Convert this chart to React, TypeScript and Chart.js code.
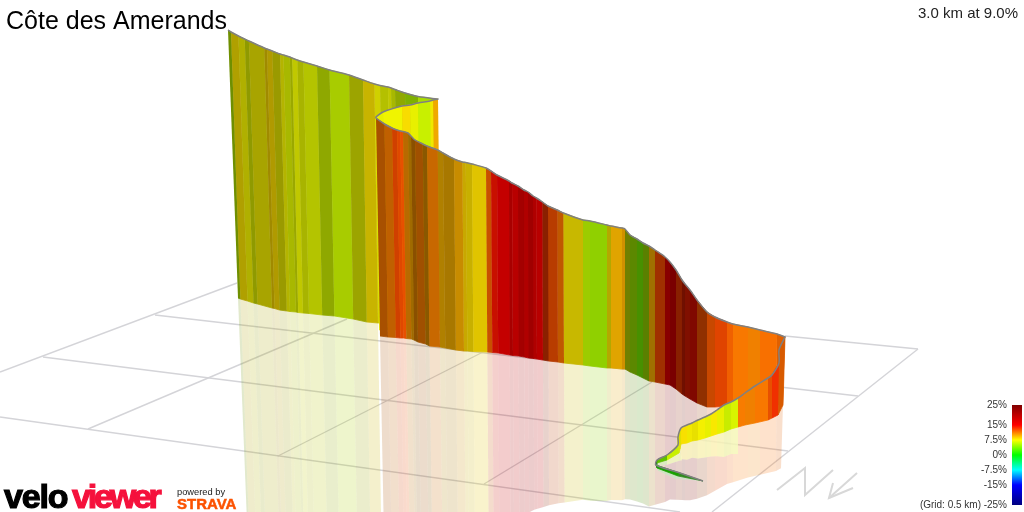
import { useEffect, useRef } from "react";
import { Chart, registerables } from "chart.js";

Chart.register(...registerables);

const FONT = '"Liberation Sans", Helvetica, Arial, sans-serif';

const titleText = "Côte des Amerands";
const summaryText = "3.0 km at 9.0%";
const gridNote = "(Grid: 0.5 km)";

// colour scale of the gradient
const gradeValues = [25, 15, 7.5, 0, -7.5, -15, -25];
const gradeColors = ["#800000", "#ff0000", "#ffff00", "#00ff00", "#00ffff", "#0000ff", "#000080"];
const gradeLabels = ["25%", "15%", "7.5%", "0%", "-7.5%", "-15%", "-25%"];

// far wall, from the top left corner to the hairpin
const farTopX = [228, 231, 238.5, 244.7, 248.9, 264.3, 267, 272.3, 280, 283.5, 289.8, 292.2, 297.3, 303.5, 317, 329.6, 349, 363, 374.5, 380, 388, 391, 395, 405, 418, 437];
const farTopY = [30, 32, 36, 39, 41, 48, 49, 51, 54, 55, 57, 58, 60, 62, 66, 70, 75, 80, 84, 85.5, 87, 88, 89.5, 93, 96.5, 99];
const farBaseX = [238, 240.4, 247.5, 253.5, 257.5, 272, 274.5, 279.5, 286.8, 290, 296, 298.2, 303, 309, 322.2, 334.4, 353.2, 366.8, 378, 383, 391, 394, 398, 408, 421, 439];
const farBaseY = [298, 299, 301, 303, 304, 308, 308.5, 310, 311, 311.5, 312, 312.5, 313, 313.5, 315, 316, 319, 322, 323, 323, 324, 325, 325, 326, 328, 330];
const farColors = ["#6f8f00", "#b0a000", "#b0b000", "#8f9a00", "#a8a400", "#a08a00", "#b09a00", "#9a9a00", "#b4b400", "#a8b800", "#9aa800", "#c0c800", "#a8b400", "#b4c400", "#8fa800", "#a8cc00", "#9ca400", "#c8b400", "#d0d000", "#b4c000", "#c0c800", "#a8b800", "#90a800", "#7fb000", "#a8dc00"];
const farVisibleStations = 19;

// inside of the hairpin
const turnTopX = [438, 433, 430, 418, 410, 402, 383, 376];
const turnTopY = [99, 100, 101, 103, 105, 106, 112, 117];
const turnBaseX = [441, 436, 433, 421, 413, 405, 386, 379.5];
const turnBaseY = [330, 330, 330, 330, 330, 330, 330, 330];
const turnColors = ["#f0a800", "#f0e800", "#c8f000", "#e8f000", "#f8dc00", "#f0f400", "#e8f000"];

// main wall
const mainTopX = [376, 384.5, 392, 397, 400.3, 403, 408, 411, 415, 422.7, 427, 437.7, 443, 454, 462.4, 465.8, 472, 486, 491, 497, 509, 512, 518, 524, 528, 533, 536.4, 542.4, 548, 557.4, 563.4, 583, 590, 607, 611, 622, 625, 630, 637, 643, 649, 655, 665, 670, 676, 682, 685, 690, 697, 707, 715, 727, 733, 748, 760, 777, 785];
const mainTopY = [118, 124, 128, 130, 131, 131.5, 133, 136, 140, 144, 146, 150, 153, 159, 162, 162.5, 164, 168, 171, 175, 181, 183, 186, 190, 192, 196, 198, 202, 206, 210, 213, 220, 221, 225, 226, 228, 229, 235, 239, 243, 246, 250, 257, 262, 270, 280, 284, 290, 300, 312, 317, 322, 324, 327, 330, 334, 337];
const mainBaseX = [380, 388, 395.7, 400.4, 403.7, 406.3, 411.4, 414, 418, 425.6, 429.5, 440, 445.3, 455.9, 464, 467.4, 473.4, 487.3, 492.3, 498.2, 509.8, 513, 518.7, 524.4, 528.6, 533.6, 537, 543, 548.5, 558, 564, 583, 590, 607, 611, 622, 625, 630, 637, 643, 649, 655, 665, 670, 676, 682, 685, 690, 697, 707, 715, 727, 733, 748, 760, 776.5, 783];
const mainBaseY = [336, 337, 337.5, 338, 338, 338.5, 339, 340, 342, 344, 346, 347, 348, 350, 351, 351, 351.5, 352, 352.5, 353, 355, 355.5, 356, 357, 358, 358.5, 359, 360, 361, 362, 363, 365, 366, 368, 368, 369, 369, 372, 375, 378, 381, 382, 384, 385, 389, 394, 396, 399, 403, 407, 407, 406, 406, 405, 405, 405, 405];
const mainColors = ["#a85000", "#c06000", "#d04000", "#e04800", "#e85000", "#b86a00", "#a06a00", "#8a5000", "#a05000", "#8a5800", "#c86800", "#b08000", "#a87800", "#c88c00", "#c8a800", "#c8b000", "#e0c400", "#c85000", "#c81000", "#c40000", "#a80000", "#b80000", "#a40000", "#b00000", "#a00000", "#b00000", "#b80000", "#8a2000", "#b83c00", "#c05800", "#c8b800", "#9ccc00", "#90d000", "#b4a800", "#e0a400", "#d09000", "#708000", "#5c8800", "#489000", "#5a8000", "#a07000", "#a03000", "#880000", "#7a0000", "#882000", "#701000", "#801000", "#800800", "#903000", "#c84800", "#e04400", "#f06000", "#f87800", "#f08000", "#f87000", "#e06000"];

// first part of the climb, running back towards the viewer
const nearTopX = [785, 779, 779, 772, 768, 755, 745, 738, 731, 724, 717, 711, 705, 698, 692, 687, 681, 678, 678, 667, 657, 656, 680, 703];
const nearTopY = [337, 350, 363, 375, 378, 386, 393, 398, 402, 405, 410, 414, 417, 420, 423, 425, 428, 437, 445, 455, 460, 465, 473, 481];
const nearBaseX = [783, 778, 778, 772, 768, 755, 745, 738, 731, 724, 717, 711, 705, 698, 692, 687, 681, 680, 679, 667, 657, 657, 678, 703];
const nearBaseY = [405, 415, 415, 418, 420, 423, 425, 427, 429, 432, 434, 436, 438, 440, 441, 443, 444, 449, 453, 460, 463, 468, 476, 481];
const nearColors = ["#d85a00", "#d85a00", "#f03000", "#e85000", "#f87800", "#f08000", "#f87c00", "#d8f400", "#c8ec00", "#e8f000", "#f8e800", "#e8f000", "#f4f000", "#e8e000", "#f0e800", "#f8e000", "#e0e000", "#d8e800", "#c8f000", "#60c000", "#108000", "#18a000", "#308a20"];
// the orange stations stand in front of the main wall's own reflection
const nearOrangeStations = 7;

// ground grid, each line as x0, y0, x1, y1
const gridLines = [
  [0, 372, 237, 283],
  [785, 336, 918, 349],
  [155, 315, 858, 396],
  [43, 357, 788, 451],
  [0, 417, 680, 512],
  [88, 429, 347, 319],
  [278, 456, 483, 352],
  [484, 484, 652, 382],
  [918, 349, 712, 512],
];

// north and south marks on the ground
const northMarkX = [777, 805, 805, 833];
const northMarkY = [490, 468, 495, 470];
const arrowShaftX = [857, 829];
const arrowShaftY = [473, 498];
const arrowHeadX = [833, 829, 853];
const arrowHeadY = [483, 498, 488];

const REFLECT_STRENGTH = 0.93;
const REFLECT_ALPHA = 0.2;

function pts(xs: number[], ys: number[]) {
  return xs.map((x, i) => ({ x, y: ys[i] }));
}

function alpha(hex: string, a: number) {
  const n = parseInt(hex.slice(1), 16);
  return `rgba(${(n >> 16) & 255},${(n >> 8) & 255},${n & 255},${a})`;
}

function poly(data: { x: number; y: number }[], color: any, seam = 0) {
  return {
    data,
    showLine: true,
    fill: "shape",
    backgroundColor: color,
    borderColor: color,
    borderWidth: seam,
    pointRadius: 0,
    tension: 0,
  };
}

function stroke(data: { x: number; y: number }[], color: string, width: number, tension = 0) {
  return {
    data,
    showLine: true,
    fill: false,
    borderColor: color,
    borderWidth: width,
    pointRadius: 0,
    tension,
  };
}

function wall(topX: number[], topY: number[], baseX: number[], baseY: number[], colors: string[]) {
  return colors.map((c, i) =>
    poly(
      [
        { x: topX[i], y: topY[i] },
        { x: topX[i + 1], y: topY[i + 1] },
        { x: baseX[i + 1], y: baseY[i + 1] },
        { x: baseX[i], y: baseY[i] },
      ],
      c,
      0.8
    )
  );
}

// the wall mirrored in the ground
function reflection(topX: number[], topY: number[], baseX: number[], baseY: number[], colors: string[], cover: boolean) {
  const out: any[] = [];
  colors.forEach((c, i) => {
    const corners = [
      { x: baseX[i], y: baseY[i] },
      { x: baseX[i + 1], y: baseY[i + 1] },
      {
        x: baseX[i + 1] + baseX[i + 1] - topX[i + 1],
        y: baseY[i + 1] + (baseY[i + 1] - topY[i + 1]) * REFLECT_STRENGTH,
      },
      {
        x: baseX[i] + baseX[i] - topX[i],
        y: baseY[i] + (baseY[i] - topY[i]) * REFLECT_STRENGTH,
      },
    ];
    if (cover) out.push(poly(corners, "rgba(255,255,255,0.75)"));
    out.push(poly(corners, alpha(c, REFLECT_ALPHA)));
  });
  return out;
}

const pagePlugin = {
  id: "pageText",
  afterDatasetsDraw(chart: any) {
    const { ctx, scales } = chart;
    const px = (v: number) => scales.x.getPixelForValue(v);
    const py = (v: number) => scales.y.getPixelForValue(v);
    ctx.save();
    ctx.textBaseline = "alphabetic";

    ctx.fillStyle = "#000";
    ctx.textAlign = "left";
    ctx.font = `25px ${FONT}`;
    ctx.fillText(titleText, px(6), py(29));

    ctx.fillStyle = "#222";
    ctx.textAlign = "right";
    ctx.font = `15px ${FONT}`;
    ctx.fillText(summaryText, px(1018), py(18));

    ctx.font = `10px ${FONT}`;
    ctx.textBaseline = "middle";
    ctx.fillStyle = "#333";
    gradeLabels.forEach((label, i) => {
      ctx.fillText(label, px(1007), scales.grade.getPixelForValue(gradeValues[i]));
    });
    ctx.fillText(gridNote, px(981), scales.grade.getPixelForValue(-25));

    // logo
    ctx.textBaseline = "alphabetic";
    ctx.textAlign = "left";
    ctx.font = `bold 34px ${FONT}`;
    ctx.lineWidth = 1.2;
    ctx.letterSpacing = "-1.2px";
    ctx.fillStyle = ctx.strokeStyle = "#000";
    ctx.fillText("velo", px(4), py(508));
    ctx.strokeText("velo", px(4), py(508));
    ctx.letterSpacing = "-3.2px";
    ctx.fillStyle = ctx.strokeStyle = "#f5113c";
    ctx.fillText("viewer", px(72), py(508));
    ctx.strokeText("viewer", px(72), py(508));
    ctx.letterSpacing = "0px";

    ctx.fillStyle = "#222";
    ctx.font = `9.3px ${FONT}`;
    ctx.fillText("powered by", px(177), py(495));
    ctx.fillStyle = ctx.strokeStyle = "#fc5200";
    ctx.font = `bold 15px ${FONT}`;
    ctx.lineWidth = 0.5;
    ctx.fillText("STRAVA", px(177), py(509));
    ctx.strokeText("STRAVA", px(177), py(509));
    ctx.restore();
  },
};

export default function App() {
  const canvasRef = useRef<HTMLCanvasElement>(null);

  useEffect(() => {
    if (!canvasRef.current) return;

    const grid = gridLines.map((l) =>
      stroke([{ x: l[0], y: l[1] }, { x: l[2], y: l[3] }], "#d4d4d8", 1.4)
    );
    const marks = [
      stroke(pts(northMarkX, northMarkY), "#d8d8d8", 2),
      stroke(pts(arrowShaftX, arrowShaftY), "#d8d8d8", 2),
      stroke(pts(arrowHeadX, arrowHeadY), "#d8d8d8", 2),
    ];

    const route = [
      ...pts(farTopX, farTopY),
      ...pts(turnTopX, turnTopY),
      ...pts(mainTopX, mainTopY),
      ...pts(nearTopX, nearTopY),
    ];

    const legendBar = {
      ...poly(
        [
          { x: 1012, y: 25 },
          { x: 1022, y: 25 },
          { x: 1022, y: -25 },
          { x: 1012, y: -25 },
        ],
        (c: any) => {
          const { ctx, scales } = c.chart;
          const y0 = scales.grade ? scales.grade.getPixelForValue(25) : NaN;
          const y1 = scales.grade ? scales.grade.getPixelForValue(-25) : NaN;
          // the scale has no pixels until the first layout is done
          if (!Number.isFinite(y0) || !Number.isFinite(y1)) return "#800000";
          const g = ctx.createLinearGradient(0, y0, 0, y1);
          gradeValues.forEach((v, i) => g.addColorStop((25 - v) / 50, gradeColors[i]));
          return g;
        }
      ),
      borderWidth: 0,
      yAxisID: "grade",
    };

    // listed back to front, Chart.js paints the first dataset last
    const layers = [
      ...grid,
      ...marks,
      ...reflection(
        farTopX.slice(0, farVisibleStations),
        farTopY.slice(0, farVisibleStations),
        farBaseX.slice(0, farVisibleStations),
        farBaseY.slice(0, farVisibleStations),
        farColors.slice(0, farVisibleStations - 1),
        false
      ),
      ...reflection(mainTopX, mainTopY, mainBaseX, mainBaseY, mainColors, false),
      ...reflection(
        nearTopX.slice(nearOrangeStations),
        nearTopY.slice(nearOrangeStations),
        nearBaseX.slice(nearOrangeStations),
        nearBaseY.slice(nearOrangeStations),
        nearColors.slice(nearOrangeStations),
        true
      ),
      ...wall(farTopX, farTopY, farBaseX, farBaseY, farColors),
      ...wall(turnTopX, turnTopY, turnBaseX, turnBaseY, turnColors),
      ...wall(mainTopX, mainTopY, mainBaseX, mainBaseY, mainColors),
      ...wall(nearTopX, nearTopY, nearBaseX, nearBaseY, nearColors),
      stroke(route, "#808080", 1.5, 0.3),
      legendBar,
    ];

    const chart = new Chart(canvasRef.current, {
      type: "scatter",
      data: { datasets: layers.reverse() as any },
      options: {
        animation: false,
        responsive: false,
        devicePixelRatio: 1,
        layout: { padding: 0 },
        plugins: {
          legend: { display: false },
          tooltip: { enabled: false },
        },
        scales: {
          x: { type: "linear", min: 0, max: 1024, display: false },
          y: { type: "linear", min: 0, max: 512, reverse: true, display: false },
          grade: { type: "linear", min: -28.5, max: 227.5, display: false },
        },
      },
      plugins: [pagePlugin],
    });

    return () => {
      chart.destroy();
    };
  }, []);

  return (
    <div style={{ position: "absolute", left: 0, top: 0, width: 1024, height: 512, background: "#fff" }}>
      <canvas ref={canvasRef} width={1024} height={512} />
    </div>
  );
}
